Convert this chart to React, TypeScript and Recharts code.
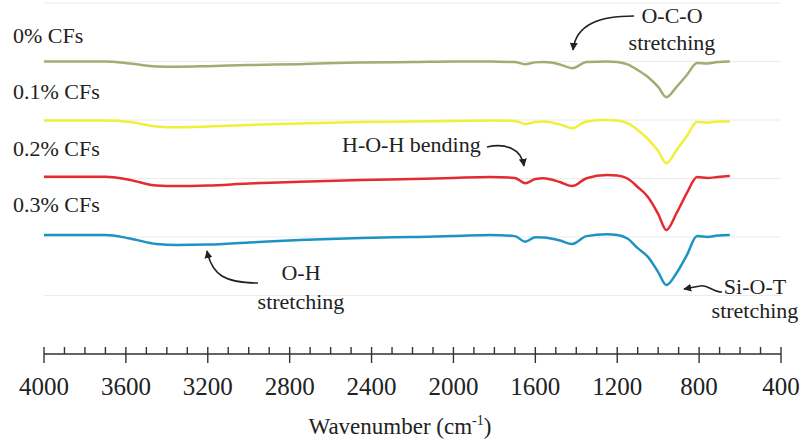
import React from 'react';
import { LineChart, Line, XAxis, YAxis, CartesianGrid } from 'recharts';

// wavenumbers (cm-1) sampled along the spectra, high to low
const wavenumbers = [4000, 3700, 3580, 3450, 3350, 3200, 3000, 2750, 2450, 2200, 2000, 1820, 1700, 1650, 1600, 1560, 1480, 1420, 1350, 1250, 1200, 1150, 1100, 1050, 1000, 960, 910, 860, 810, 760, 710, 650];

// offset transmittance (a.u.)
const cf0 = [100, 100, 99.3, 98.3, 98.2, 98.4, 98.8, 99.1, 99.7, 99.8, 100, 100, 99.8, 99.1, 99.7, 99.8, 99.0, 97.7, 99.8, 100, 99.8, 99.0, 97.1, 94.7, 91.3, 87.8, 91.3, 95.4, 99.5, 99.3, 99.8, 100];
const cf01 = [79.8, 79.8, 79.3, 77.8, 77.5, 77.8, 78.3, 78.8, 79.3, 79.5, 79.7, 79.8, 79.7, 78.6, 79.3, 79.5, 78.5, 77.2, 79.5, 80, 79.8, 78.9, 76.6, 73.5, 69.4, 65.2, 69.7, 74.5, 79.3, 79.1, 79.5, 79.5];
const cf02 = [60.6, 60.6, 59.5, 57.6, 57.4, 57.6, 58.3, 58.9, 59.5, 59.8, 60.2, 60.5, 60.2, 58.4, 59.8, 60.1, 58.8, 57.4, 60.1, 61.2, 61.0, 60.0, 57.1, 53.7, 47.9, 42.4, 48.2, 55.0, 60.5, 60.2, 60.5, 60.9];
const cf03 = [40.7, 40.7, 39.5, 37.6, 37.3, 37.4, 38.1, 39.0, 39.7, 40.0, 40.3, 40.7, 40.3, 38.4, 39.9, 39.8, 38.8, 37.6, 40.3, 40.9, 40.7, 39.5, 36.2, 33.2, 28.0, 23.6, 27.7, 33.8, 40.3, 40.0, 40.5, 40.7];

const seriesLabels = ['0% CFs', '0.1% CFs', '0.2% CFs', '0.3% CFs'];
const seriesColors = ['#9fae72', '#f0f03a', '#e42b2f', '#1d93c4'];

// every 100 cm-1 a minor tick, every 400 a labelled major tick
const axisTicks = Array.from({ length: 37 }, (_, i) => 400 + i * 100);
const gridTicks = [0, 20, 40, 60, 80, 100];

const FONT = "'Liberation Serif', 'DejaVu Serif', serif";
const INK = '#222';

const WaveTick = (props: any) => {
  const { x, y, payload } = props;
  const major = payload.value % 400 === 0;
  return (
    <g>
      <line x1={x} x2={x} y1={y - 7} y2={major ? y + 9 : y} stroke="#333" strokeWidth={1.4} />
      {major && (
        <text x={x} y={y + 41} textAnchor="middle" fontFamily={FONT} fontSize={25} fill={INK}>
          {payload.value}
        </text>
      )}
    </g>
  );
};

export default function App() {
  const data = wavenumbers.map((w, i) => ({
    w,
    s0: cf0[i],
    s1: cf01[i],
    s2: cf02[i],
    s3: cf03[i],
  }));
  const keys = ['s0', 's1', 's2', 's3'];

  return (
    <div style={{ position: 'absolute', left: 0, top: 0, width: 804, height: 439, background: '#fff' }}>
      <LineChart width={804} height={439} data={data} margin={{ top: 3, right: 23, left: 44, bottom: 0 }}>
        <CartesianGrid vertical={false} stroke="#ebebeb" />
        <XAxis
          dataKey="w"
          type="number"
          domain={[400, 4000]}
          reversed
          ticks={axisTicks}
          interval={0}
          tickLine={false}
          tickSize={0}
          tickMargin={0}
          height={85}
          axisLine={{ stroke: '#333', strokeWidth: 1.4 }}
          tick={<WaveTick />}
        />
        <YAxis hide type="number" domain={[0, 120]} ticks={gridTicks} />
        {keys.map((k, i) => (
          <Line
            key={k}
            dataKey={k}
            type="monotone"
            stroke={seriesColors[i]}
            strokeWidth={2.5}
            dot={false}
            isAnimationActive={false}
          />
        ))}
      </LineChart>

      {/* labels and peak annotations */}
      <svg width={804} height={439} style={{ position: 'absolute', left: 0, top: 0, pointerEvents: 'none' }}>
        <defs>
          <marker id="head" viewBox="0 0 10 10" refX="9" refY="5" markerWidth="5" markerHeight="5" orient="auto">
            <path d="M0,0 L10,5 L0,10 z" fill={INK} />
          </marker>
        </defs>
        <g fontFamily={FONT} fill={INK} fontSize={22}>
          {seriesLabels.map((s, i) => (
            <text key={s} x={13} y={[43, 99, 156, 212][i]}>{s}</text>
          ))}
          <text x={672} y={23} textAnchor="middle">O-C-O</text>
          <text x={672} y={50} textAnchor="middle">stretching</text>
          <text x={342} y={152}>H-O-H bending</text>
          <text x={301} y={280} textAnchor="middle">O-H</text>
          <text x={301} y={309} textAnchor="middle">stretching</text>
          <text x={755} y={294} textAnchor="middle">Si-O-T</text>
          <text x={755} y={318} textAnchor="middle">stretching</text>
          <text x={400} y={434} textAnchor="middle" fontSize={23}>
            Wavenumber (cm<tspan dy={-9} fontSize={14}>-1</tspan><tspan dy={9}>)</tspan>
          </text>
        </g>
        <g fill="none" stroke={INK} strokeWidth={1.6}>
          <path d="M634,16 C600,16 576,24 573,50" markerEnd="url(#head)" />
          <path d="M487,147 C505,143 521,148 524,166" markerEnd="url(#head)" />
          <path d="M258,283 C225,283 212,275 207,251" markerEnd="url(#head)" />
          <path d="M722,292 C712,292 708,284 700,286 L684,289" markerEnd="url(#head)" />
        </g>
      </svg>
    </div>
  );
}
